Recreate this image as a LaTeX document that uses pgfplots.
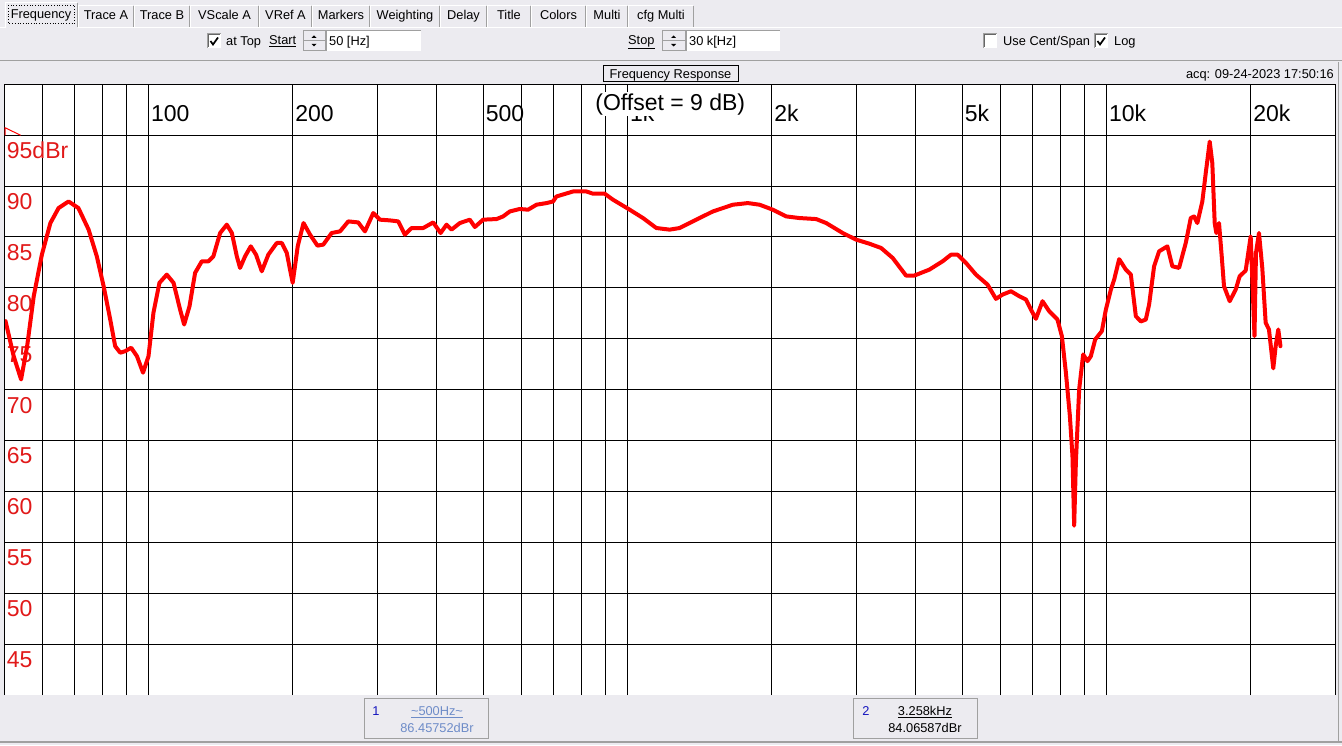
\documentclass[border=0pt]{standalone}
\usepackage{pgfplots}
\pgfplotsset{compat=1.18}
\usepackage{fontspec}
\setmainfont{Liberation Sans}

\definecolor{panel}{RGB}{236,235,240}
\definecolor{edgegray}{RGB}{160,160,160}
\definecolor{trace}{RGB}{255,0,0}
\definecolor{scalered}{RGB}{225,25,25}
\definecolor{mkblue}{RGB}{20,20,190}
\definecolor{mkpale}{RGB}{110,140,200}

\newcommand{\ui}{\fontsize{12.8}{15}\selectfont}
\newcommand{\lbl}{\fontsize{23}{23}\selectfont}

% tab: left x, right x, text
\newcommand{\uitab}[3]{%
  \draw[white,line width=1pt] (#1+0.5,27) -- (#1+0.5,5.5) -- (#2-1,5.5);
  \draw[edgegray,line width=1pt] (#2-0.5,6) -- (#2-0.5,27);
  \node[anchor=base,inner sep=0pt] at ({(#1+#2)/2},20) {#3};}
% checkbox at top-left x,y
\newcommand{\chk}[2]{%
  \fill[white] (#1,#2) rectangle ++(14,14);
  \draw[edgegray,line width=1pt] (#1,#2+14) -- (#1,#2) -- (#1+14,#2);
  \draw[black!60,line width=1pt] (#1+1,#2+13) -- (#1+1,#2+1) -- (#1+13,#2+1);}
\newcommand{\tick}[2]{%
  \draw[line width=1.7pt] (#1+3.5,#2+7) -- (#1+6,#2+10.5) -- (#1+11,#2+3.5);}
% spin buttons: x1, x2, top y
\newcommand{\spin}[3]{%
  \draw[edgegray,line width=1pt] (#1,#3) rectangle (#2,#3+20);
  \draw[edgegray,line width=1pt] (#1,#3+10) -- (#2,#3+10);
  \fill[black] ({(#1+#2)/2-2.5},#3+7) -- ({(#1+#2)/2+2.5},#3+7) -- ({(#1+#2)/2},#3+4.5) -- cycle;
  \fill[black] ({(#1+#2)/2-2.5},#3+13) -- ({(#1+#2)/2+2.5},#3+13) -- ({(#1+#2)/2},#3+15.5) -- cycle;}
% edit box: x1, x2, top y, text
\newcommand{\edit}[4]{%
  \fill[white] (#1,#3) rectangle (#2,#3+20);
  \draw[edgegray,line width=1pt] (#1,#3+20) -- (#1,#3) -- (#2,#3);
  \node[anchor=base west,inner sep=0pt] at (#1+3,#3+14.5) {#4};}

\begin{document}
\begin{tikzpicture}
\useasboundingbox (0,0) rectangle (1342pt,745pt);
\fill[panel] (0,0) rectangle (1342pt,745pt);

\begin{scope}[x=1pt,y=-1pt,yshift=745pt,font=\ui]
  % tab strip
  \draw[white,line width=1pt] (0,27.5) -- (1342,27.5);
  \fill[panel] (5,2) rectangle (78,29);
  \draw[white,line width=1pt] (5.5,28) -- (5.5,2.5) -- (77,2.5);
  \draw[edgegray,line width=1pt] (77.5,3) -- (77.5,27);
  \node[anchor=base,inner sep=0pt] at (41,19) {Frequency};
  \draw[dotted,line width=0.7pt] (8,5.5) rectangle (74.5,23);
  \uitab{78}{134}{Trace A}
  \uitab{134}{190}{Trace B}
  \uitab{190}{259}{VScale A}
  \uitab{259}{312}{VRef A}
  \uitab{312}{370}{Markers}
  \uitab{370}{440}{Weighting}
  \uitab{440}{487}{Delay}
  \uitab{487}{531}{Title}
  \uitab{531}{586}{Colors}
  \uitab{586}{628}{Multi}
  \uitab{628}{694}{cfg Multi}

  % control row
  \chk{207}{34}\tick{207}{34}
  \node[anchor=base west,inner sep=0pt] at (226,45.5) {at Top};
  \node[anchor=base west,inner sep=0pt] at (269,44.5) {\underline{Start}};
  \spin{303}{325}{31}
  \edit{326}{421}{31}{50 [Hz]}
  \node[anchor=base west,inner sep=0pt] at (628,44.5) {\underline{Stop}};
  \spin{662}{685}{31}
  \edit{686}{780}{31}{30 k[Hz]}
  \chk{983}{34}
  \node[anchor=base west,inner sep=0pt] at (1003,45.5) {Use Cent/Span};
  \chk{1094}{34}\tick{1094}{34}
  \node[anchor=base west,inner sep=0pt] at (1114,45.5) {Log};
  \draw[edgegray,line width=1.5pt] (0,60.5) -- (1342,60.5);

  % header of the graph
  \draw[black,line width=1pt] (603,66) rectangle (738,82);
  \node[anchor=base,inner sep=0pt] at (670.5,78.5) {Frequency Response};
  \node[anchor=base east,inner sep=0pt] at (1334,78.5) {acq: 09-24-2023 17:50:16};

  % marker readouts
  \draw[edgegray,line width=1pt] (364,698) rectangle (488,738);
  \node[anchor=base,inner sep=0pt,text=mkblue] at (376,715.5) {1};
  \node[anchor=base,inner sep=0pt,text=mkpale] at (437,715.5) {\underline{\textasciitilde500Hz\textasciitilde}};
  \node[anchor=base,inner sep=0pt,text=mkpale] at (437,732.5) {86.45752dBr};
  \draw[edgegray,line width=1pt] (853,698) rectangle (977,738);
  \node[anchor=base,inner sep=0pt,text=mkblue] at (866,715.5) {2};
  \node[anchor=base,inner sep=0pt] at (925,715.5) {\underline{3.258kHz}};
  \node[anchor=base,inner sep=0pt] at (925,732.5) {84.06587dBr};
  \draw[edgegray,line width=1.5pt] (0,742) -- (1342,742);
  \draw[edgegray,line width=1pt] (1338,62) -- (1338,742);
\end{scope}

\begin{axis}[
  at={(4.3pt,50pt)}, anchor=south west,
  scale only axis, width=1330.7pt, height=610.7pt,
  xmode=log, xmin=50, xmax=30000, ymin=40, ymax=100,
  xtick={60,70,80,90,100,200,300,400,500,600,700,800,900,1000,2000,3000,4000,5000,6000,7000,8000,9000,10000,20000},
  ytick={45,50,...,95},
  xmajorticks=false, ymajorticks=false,
  grid=major, major grid style={black,line width=1pt},
  axis line style={draw=none},
  axis background/.style={fill=white},
]
  % frequency labels inside the graph
  \foreach \f/\t in {100/100,200/200,500/500,1000/1k,2000/2k,5000/5k,10000/10k,20000/20k}
    {\edef\temp{\noexpand\node[anchor=base west,inner sep=0pt,xshift=2.4pt,font=\noexpand\lbl] at (axis cs:\f,96.35) {\t};}\temp}
  % level labels
  \node[anchor=base west,inner sep=0pt,xshift=2.4pt,font=\lbl,text=scalered] at (axis cs:50,92.7) {95dBr};
  \foreach \v in {90,85,80,75,70,65,60,55,50,45}
    {\edef\temp{\noexpand\node[anchor=base west,inner sep=0pt,xshift=2.4pt,font=\noexpand\lbl,text=scalered] at (axis cs:50,\v-2.3) {\v};}\temp}

  \addplot[trace, line width=4pt, line join=round, line cap=round] coordinates {
    (50.3,76.73) (52.3,73.29) (54.2,71.0) (55.8,74.27) (57.6,79.18) (59.9,83.26)
    (62.4,86.37) (64.9,87.84) (68.1,88.49) (71.4,87.84) (75.0,85.72) (78.0,83.1)
    (80.6,80.16) (83.2,76.89) (85.2,74.27) (87.3,73.63) (89.4,73.78) (92.0,74.12)
    (94.6,73.29) (97.4,71.67) (100,73.29) (102.4,77.55) (105.4,80.49) (109.2,81.3)
    (112.8,80.49) (116.4,77.87) (118.7,76.4) (121.8,78.2) (125.1,81.47) (129.2,82.61)
    (133.4,82.61) (136.6,83.1) (141.1,85.39) (145.7,86.21) (149.3,85.39) (152.9,83.1)
    (155.3,81.96) (159.1,83.1) (163.5,84.08) (167.7,83.26) (172.4,81.63) (177.9,83.26)
    (185.3,84.41) (189.8,84.41) (194.4,83.43) (200.0,80.49) (204.9,84.08) (210.7,86.37)
    (217.4,85.23) (225.3,84.15) (231.7,84.25) (241.2,85.39) (251.1,85.55) (261.3,86.53)
    (274.1,86.43) (283.1,85.55) (294.6,87.35) (304.2,86.7) (319.2,86.63) (332.2,86.53)
    (343.0,85.23) (354.2,85.88) (374.6,85.88) (393.0,86.43) (407.2,85.39) (419.1,86.21)
    (429.2,85.72) (446.7,86.37) (468.7,86.7) (480.1,85.98) (499.6,86.7) (532.9,86.76)
    (550.1,87.02) (568.1,87.51) (595.9,87.75) (620.2,87.68) (645.7,88.17) (677.4,88.33)
    (699.3,88.49) (710.8,88.98) (769.8,89.47) (820.9,89.47) (847.4,89.25) (896.3,89.25)
    (932.8,88.66) (1010.7,87.68) (1077.3,86.86) (1148.9,85.88) (1224.6,85.72) (1285,85.88)
    (1392,86.7) (1508,87.51) (1660,88.17) (1784,88.33) (1887,88.17) (2011,87.68)
    (2145,87.02) (2286,86.86) (2477,86.76) (2599,86.37) (2814,85.39) (3001,84.74)
    (3199,84.34) (3384,83.92) (3578,82.94) (3816,81.21) (3971,81.21) (4267,81.79)
    (4549,82.61) (4736,83.26) (4889,83.26) (5090,82.45) (5340,81.3) (5646,80.32)
    (5879,78.92) (6068,79.34) (6318,79.67) (6575,79.18) (6790,78.85) (6955,77.87)
    (7124,76.96) (7353,78.69) (7594,77.71) (7902,76.89) (8071,75.25) (8228,71.67)
    (8387,67.41) (8492,63.49) (8562,56.63) (8632,62.84) (8770,70.03) (8940,73.46)
    (9127,72.8) (9277,73.29) (9472,74.93) (9781,75.75) (9971,77.87) (10214,79.83)
    (10377,80.81) (10629,82.82) (10977,81.79) (11243,81.3) (11516,77.22) (11796,76.7)
    (12082,76.89) (12275,78.36) (12573,82.12) (12878,83.59) (13402,84.08) (13727,82.12)
    (14177,81.96) (14640,84.41) (14996,86.86) (15236,87.02) (15479,86.37) (15855,88.49)
    (16116,91.27) (16428,94.37) (16634,92.25) (16827,86.37) (16957,85.39) (17179,86.37)
    (17403,83.1) (17596,80.16) (18084,78.69) (18613,79.83) (18974,81.14) (19528,81.7)
    (20002,85.06) (20372,75.25) (20518,83.43) (20816,85.39) (21149,81.96) (21497,76.57)
    (21841,75.91) (22297,72.09) (22555,74.27) (22839,75.91) (23081,74.27)
  };

  \node[anchor=base west,inner xsep=1pt,inner ysep=1.5pt,fill=white,font=\lbl] at (axis cs:852,97.47) {(Offset = 9 dB)};
\end{axis}

\begin{scope}[x=1pt,y=-1pt,yshift=745pt]
  \draw[black,line width=1pt] (4.3,695) -- (4.3,84.3) -- (1335,84.3) -- (1335,695);
  \draw[trace,line width=1pt] (5,135.3) -- (5,127.7) -- (20.7,135.3);
\end{scope}
\end{tikzpicture}
\end{document}
